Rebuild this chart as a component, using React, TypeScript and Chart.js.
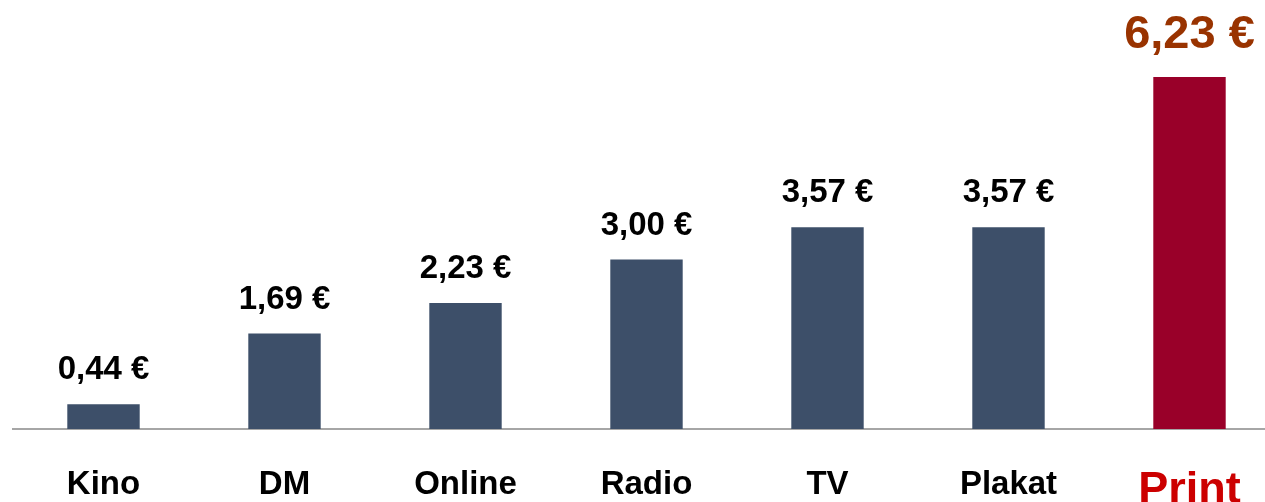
import React, { useEffect, useRef } from "react";
import { Chart, registerables } from "chart.js";

Chart.register(...registerables);

const categories = ["Kino", "DM", "Online", "Radio", "TV", "Plakat", "Print"];
const values = [0.44, 1.69, 2.23, 3.0, 3.57, 3.57, 6.23];
const valueLabels = ["0,44 €", "1,69 €", "2,23 €", "3,00 €", "3,57 €", "3,57 €", "6,23 €"];

const FONT = "'Liberation Sans', Arial, sans-serif";
const BAR = "#3D4F69";
const BAR_HI = "#990029";
const HI_INDEX = 6;

const valueLabelPlugin = {
  id: "valueLabels",
  afterDatasetsDraw(chart: any) {
    const ctx = chart.ctx;
    const meta = chart.getDatasetMeta(0);
    ctx.save();
    ctx.textAlign = "center";
    ctx.textBaseline = "alphabetic";
    meta.data.forEach((bar: any, i: number) => {
      const hi = i === HI_INDEX;
      ctx.font = `bold ${hi ? 47 : 33}px ${FONT}`;
      ctx.fillStyle = hi ? "#993300" : "#000000";
      ctx.fillText(valueLabels[i], bar.x, bar.y - (hi ? 29 : 25));
    });
    ctx.restore();
  },
};

export default function App() {
  const ref = useRef<HTMLCanvasElement | null>(null);
  useEffect(() => {
    if (!ref.current) return;
    const chart = new Chart(ref.current, {
      type: "bar",
      data: {
        labels: categories,
        datasets: [
          {
            data: values,
            backgroundColor: values.map((_, i) => (i === HI_INDEX ? BAR_HI : BAR)),
            barPercentage: 0.8,
            categoryPercentage: 0.5,
          },
        ],
      },
      options: {
        animation: false,
        responsive: true,
        maintainAspectRatio: false,
        layout: { padding: { left: 13, right: 20, top: 33.5, bottom: -50 } },
        plugins: { legend: { display: false }, tooltip: { enabled: false } },
        scales: {
          y: { display: false, min: 0, max: 7 },
          x: {
            grid: { display: false, drawTicks: false },
            border: { display: true, color: "#A6A6A6", width: 2 },
            ticks: {
              padding: 39,
              color: (c: any) => (c.index === HI_INDEX ? "#CC0000" : "#000000"),
              font: (c: any) => ({
                family: FONT,
                weight: "bold",
                size: c.index === HI_INDEX ? 45 : 33,
                lineHeight: 1,
              }),
            },
          },
        },
      },
      plugins: [valueLabelPlugin],
    });
    return () => chart.destroy();
  }, []);
  return (
    <div style={{ position: "fixed", left: 0, top: 0, width: 1265, height: 502, overflow: "hidden", background: "#fff" }}>
      <div style={{ position: "relative", width: 1300, height: 502 }}>
        <canvas ref={ref} />
      </div>
    </div>
  );
}
